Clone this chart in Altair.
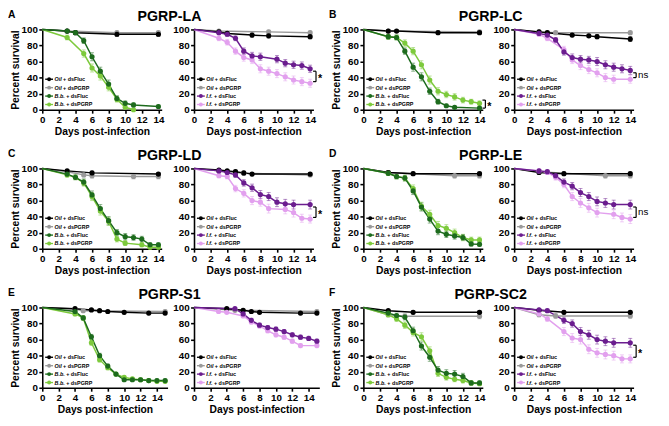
import altair as alt
import pandas as pd

# ---------------- data: (day, percent survival, error) per series ----------------
A_L = {
    "oil_fluc": [(0, 100, 0), (3, 98, 1.5), (4, 96, 2), (9, 94, 2.5), (14, 94, 2.5)],
    "oil_pgrp": [(0, 100, 0), (3, 98, 1.5), (9, 96, 2), (14, 96, 2)],
    "bb_fluc": [(0, 100, 0), (3, 98, 1.5), (4, 96, 2), (5, 86, 3.5), (6, 66, 5), (7, 48, 5), (8, 32, 5),
                (9, 14, 3.5), (10, 8, 3), (11, 6, 2.5), (14, 4, 2)],
    "bb_pgrp": [(0, 100, 0), (3, 90, 3), (5, 70, 4.5), (6, 52, 5), (7, 42, 5), (8, 28, 4.5), (9, 13, 3.5),
                (10, 3, 2), (11, 0, 0)],
}
A_R = {
    "oil_fluc": [(0, 100, 0), (3, 97, 2), (4, 95, 2), (7, 93, 2.5), (9, 92, 2.5), (14, 91, 2.5)],
    "oil_pgrp": [(0, 100, 0), (3, 98, 1.5), (9, 97, 2), (14, 96, 2)],
    "ifu_fluc": [(0, 100, 0), (3, 96, 2), (4, 94, 2.5), (5, 89, 3), (6, 73, 4), (7, 67, 4.5), (8, 66, 4.5),
                 (10, 63, 4.5), (11, 58, 4.5), (12, 56, 4.5), (13, 55, 4.5), (14, 51, 4.5)],
    "ifu_pgrp": [(0, 100, 0), (3, 89, 3), (4, 84, 3.5), (5, 73, 4), (6, 65, 4.5), (7, 62, 4.5), (8, 51, 5),
                 (9, 48, 5), (10, 45, 5), (11, 41, 5), (12, 37, 5), (13, 35, 5), (14, 33, 5)],
}
B_L = {
    "oil_fluc": [(0, 100, 0), (3, 98, 1.5), (4, 98, 1.5), (9, 96, 2), (14, 96, 2)],
    "oil_pgrp": [(0, 100, 0), (3, 98, 1.5), (14, 97, 2)],
    "bb_fluc": [(0, 100, 0), (3, 91, 3), (4, 90, 3), (5, 73, 4), (6, 53, 5), (7, 41, 5), (8, 23, 4),
                (9, 10, 3), (10, 5, 2), (11, 3, 1.5), (14, 2, 1.5)],
    "bb_pgrp": [(0, 100, 0), (3, 91, 3), (4, 90, 3), (5, 83, 4), (6, 73, 4.5), (7, 56, 5), (8, 37, 5),
                (9, 23, 4.5), (10, 19, 4), (11, 16, 4), (12, 12, 3.5), (13, 10, 3), (14, 8, 3)],
}
B_R = {
    "oil_fluc": [(0, 100, 0), (3, 97, 1.5), (4, 96, 2), (7, 93, 2), (9, 92, 2), (10, 91, 2.5), (14, 88, 3)],
    "oil_pgrp": [(0, 100, 0), (3, 97, 1.5), (5, 96, 2), (14, 96, 2)],
    "ifu_fluc": [(0, 100, 0), (3, 95, 2), (4, 93, 2.5), (5, 87, 3), (6, 72, 4), (7, 65, 4.5), (8, 63, 4.5),
                 (9, 62, 4.5), (10, 60, 5), (11, 56, 5), (12, 53, 5), (13, 51, 5), (14, 49, 5)],
    "ifu_pgrp": [(0, 100, 0), (3, 94, 2), (4, 89, 3), (6, 75, 4), (7, 62, 4.5), (8, 55, 5), (9, 50, 5),
                 (10, 46, 5), (11, 40, 5), (12, 38, 5), (14, 38, 5)],
}
C_L = {
    "oil_fluc": [(0, 100, 0), (3, 97, 1.5), (6, 94.5, 2), (14, 93, 2)],
    "oil_pgrp": [(0, 100, 0), (3, 96, 2), (5, 92, 2.5), (6, 91, 3), (11, 90, 3), (14, 90, 3)],
    "bb_fluc": [(0, 100, 0), (3, 93, 2.5), (4, 89, 3), (5, 83, 4), (6, 67, 5), (7, 50, 5), (8, 35, 5),
                (9, 20, 4), (10, 15, 4), (11, 14, 3.5), (12, 12, 3.5), (13, 5, 2.5), (14, 5, 2.5)],
    "bb_pgrp": [(0, 100, 0), (3, 92, 2.5), (4, 89, 3), (5, 82, 4), (6, 65, 5), (7, 47, 5), (8, 34, 5),
                (9, 12, 3.5), (10, 7, 3), (12, 5, 2.5), (13, 2, 1.5), (14, 2, 1.5)],
}
C_R = {
    "oil_fluc": [(0, 100, 0), (3, 98, 1.5), (4, 97, 1.5), (5, 96, 2), (6, 94.5, 2), (7, 93, 2), (14, 93, 2)],
    "oil_pgrp": [(0, 100, 0), (3, 97, 1.5), (6, 94, 2), (14, 92, 2)],
    "ifu_fluc": [(0, 100, 0), (3, 97, 1.5), (4, 95, 2), (5, 92, 3), (6, 82, 4), (7, 76, 4.5), (8, 67.5, 5),
                 (9, 65, 5), (10, 58, 5.5), (11, 56, 5.5), (12, 55, 5.5), (14, 55, 5.5)],
    "ifu_pgrp": [(0, 100, 0), (3, 91, 2.5), (4, 90, 3), (5, 75, 4), (6, 69, 4.5), (7, 60, 5), (8, 58, 5),
                 (9, 50, 5.5), (11, 49, 5.5), (12, 45, 5.5), (13, 38, 5), (14, 37, 5)],
}
D_L = {
    "oil_fluc": [(0, 100, 0), (3, 95, 2), (6, 93.5, 2), (14, 93.5, 2)],
    "oil_pgrp": [(0, 100, 0), (3, 95, 2), (11, 91, 3), (14, 91, 3)],
    "bb_fluc": [(0, 100, 0), (3, 94, 2.5), (4, 90, 3), (5, 88, 3.5), (6, 72, 4.5), (7, 52, 5), (8, 37, 5),
                (9, 22, 4.5), (10, 18, 4), (11, 16, 4), (12, 14, 3.5), (13, 6, 2.5), (14, 5.5, 2.5)],
    "bb_pgrp": [(0, 100, 0), (3, 94, 2.5), (4, 90, 3), (5, 88, 3.5), (6, 75, 4.5), (7, 53, 5), (8, 43, 5),
                (9, 29, 5), (10, 25.5, 4.5), (11, 20, 4.5), (12, 14, 4), (13, 11, 3.5), (14, 11, 3.5)],
}
D_R = {
    "oil_fluc": [(0, 100, 0), (3, 95, 2), (6, 93.5, 2), (14, 93.5, 2)],
    "oil_pgrp": [(0, 100, 0), (3, 96, 2), (11, 91, 3), (14, 91, 3)],
    "ifu_fluc": [(0, 100, 0), (3, 97, 1.5), (4, 96, 2), (5, 91, 3), (6, 83, 4), (7, 78, 4.5), (8, 70, 5),
                 (9, 65, 5), (10, 59, 5.5), (11, 57, 5.5), (12, 55, 5.5), (14, 55, 5.5)],
    "ifu_pgrp": [(0, 100, 0), (3, 97, 1.5), (4, 95, 2), (5, 89, 3.5), (6, 80, 4), (7, 65, 5), (8, 57, 5.5),
                 (9, 51, 5.5), (10, 45, 5.5), (12, 43, 5.5), (13, 39, 5.5), (14, 37, 5.5)],
}
E_L = {
    "oil_fluc": [(0, 100, 0), (4, 98.5, 1), (6, 97, 1.5), (7, 96, 1.5), (8, 95, 1.5), (10, 94, 2), (13, 93, 2),
                 (15, 93, 2)],
    "oil_pgrp": [(0, 100, 0), (4, 98, 1), (5, 96, 1.5), (15, 95, 2)],
    "bb_fluc": [(0, 100, 0), (4, 95, 1.5), (5, 87, 2.5), (6, 63.5, 3), (7, 40, 3), (8, 27, 2.5), (9, 17, 2),
                (10, 10, 2), (11, 10, 2), (12, 10, 2), (13, 9, 2), (14, 9, 2), (15, 9, 2)],
    "bb_pgrp": [(0, 100, 0), (4, 92, 2), (5, 87, 2.5), (6, 56, 3), (7, 35, 3), (8, 25, 2.5), (9, 17, 2),
                (10, 13, 2), (11, 11, 2), (12, 10, 2), (13, 9, 2), (14, 8, 2), (15, 8, 2)],
}
E_R = {
    "oil_fluc": [(0, 100, 0), (4, 98.5, 1), (6, 96.5, 1.5), (7, 95, 1.5), (8, 94, 1.5), (13, 93, 2), (15, 93, 2)],
    "oil_pgrp": [(0, 100, 0), (5, 96.5, 1.5), (15, 95, 2)],
    "ifu_fluc": [(0, 100, 0), (5, 98.5, 1), (6, 92, 2), (7, 84, 2.5), (8, 78, 2.5), (9, 75, 2.5), (10, 73, 2.5),
                 (11, 70, 2.5), (12, 66, 2.5), (13, 63, 2.5), (14, 61.5, 2.5), (15, 58, 2.5)],
    "ifu_pgrp": [(0, 100, 0), (3, 95, 1.5), (4, 94, 1.5), (6, 89.5, 2), (7, 82, 2.5), (8, 77, 2.5), (9, 71, 2.5),
                 (10, 66, 2.5), (11, 63, 2.5), (12, 58, 2.5), (13, 52.5, 2.5), (15, 52.5, 2.5)],
}
F_L = {
    "oil_fluc": [(0, 100, 0), (3, 96, 1.5), (6, 94, 2), (14, 94, 2)],
    "oil_pgrp": [(0, 100, 0), (3, 91, 2.5), (5, 89, 3), (14, 89, 3)],
    "bb_fluc": [(0, 100, 0), (3, 93, 2.5), (4, 90, 3), (5, 88, 3.5), (6, 71, 4.5), (7, 52, 5), (8, 38, 5),
                (9, 22, 4.5), (10, 18, 4.5), (11, 17, 4.5), (12, 14, 4), (13, 6, 2.5), (14, 6, 2.5)],
    "bb_pgrp": [(0, 100, 0), (3, 91, 2.5), (4, 86, 3.5), (5, 78, 4), (6, 69, 4.5), (7, 63.5, 5), (8, 46, 5),
                (9, 18, 4), (10, 13, 3.5), (11, 10.5, 3), (12, 9, 3), (13, 6, 2.5), (14, 5, 2)],
}
F_R = {
    "oil_fluc": [(0, 100, 0), (3, 96.5, 1.5), (6, 94, 2), (14, 94, 2)],
    "oil_pgrp": [(0, 100, 0), (3, 91, 2.5), (5, 89.5, 3), (14, 89.5, 3)],
    "ifu_fluc": [(0, 100, 0), (3, 97, 1.5), (4, 96, 2), (6, 84, 4), (7, 80, 4.5), (8, 70, 5), (9, 66, 5.5),
                 (10, 60, 5.5), (11, 58, 5.5), (12, 56, 5.5), (14, 56, 5.5)],
    "ifu_pgrp": [(0, 100, 0), (3, 92, 2.5), (4, 86, 3.5), (6, 70, 5), (7, 62, 5.5), (8, 60, 5.5), (9, 48, 5.5),
                 (10, 43.5, 5.5), (11, 41.5, 5.5), (12, 40, 5.5), (13, 36, 5), (14, 36, 5)],
}

PANEL_LETTERS = ["A", "B", "C", "D", "E", "F"]
PANEL_TITLES = ["PGRP-LA", "PGRP-LC", "PGRP-LD", "PGRP-LE", "PGRP-S1", "PGRP-SC2"]
PANEL_DATA = [(A_L, A_R), (B_L, B_R), (C_L, C_R), (D_L, D_R), (E_L, E_R), (F_L, F_R)]
PANEL_SIG = [(None, "*"), ("*", "ns"), (None, "*"), (None, "ns"), (None, None), (None, "*")]
PANEL_XMAX = [14.4, 14.4, 14.4, 14.4, 15.3, 14.4]

X_TICKS = [0, 2, 4, 6, 8, 10, 12, 14]
Y_TICKS = [0, 20, 40, 60, 80, 100]

KEYS = ["oil_fluc", "oil_pgrp", "bb_fluc", "bb_pgrp", "ifu_fluc", "ifu_pgrp"]
COLORS = ["#000000", "#9a9a9a", "#1d6b1d", "#7dca3c", "#6b1d8f", "#e2a0ee"]
SPECIES = {"oil": "Oil", "bb": "B.b.", "ifu": "I.f."}
TREAT = {"fluc": "+ dsFluc", "pgrp": "+ dsPGRP"}

# ---------------- layout ----------------
FONT = "Liberation Sans"
PLOT_H = 82
CELL_W = [155, 173, 154, 150]
LEG_FS = 5.5
SPECIES_W = {"oil": 8.8, "bb": 11.9, "ifu": 7.9}

color = alt.Color("series:N", scale=alt.Scale(domain=KEYS, range=COLORS), legend=None)


def make_cell(data, col, letter=None, title=None, sig=None, xmax=14.4):
    plot_w = 128 if xmax > 15 else 122
    xscale = alt.Scale(domain=[0, xmax], range=[0, plot_w], nice=False, zero=False)
    yscale = alt.Scale(domain=[0, 100], nice=False)
    xaxis = alt.Axis(values=X_TICKS, title="Days post-infection", titlePadding=2)
    if col in (0, 2):
        yaxis = alt.Axis(values=Y_TICKS, title="Percent survival", titlePadding=1)
    else:
        yaxis = alt.Axis(values=Y_TICKS, title=None)

    def X(f):
        return alt.X(f, type="quantitative", scale=xscale, axis=xaxis)

    def Y(f):
        return alt.Y(f, type="quantitative", scale=yscale, axis=yaxis)

    keys = list(data.keys())
    inf = [k for k in keys if not k.startswith("oil")]
    draw_order = ["oil_pgrp", "oil_fluc"] + [k for k in inf if k.endswith("pgrp")] + \
                 [k for k in inf if k.endswith("fluc")]
    rows = []
    for k in draw_order:
        for d, s, e in data[k]:
            rows.append({"series": k, "day": d, "surv": s, "err": e,
                         "lo": max(s - e, 0), "hi": min(s + e, 100)})
    df = pd.DataFrame(rows)
    base = alt.Chart(df)

    errs = base.transform_filter(alt.FieldGTPredicate(field="err", gt=0))
    err_rule = errs.mark_rule(strokeWidth=1, opacity=0.5).encode(x=X("day"), y=Y("lo"), y2="hi", color=color)
    cap_lo = errs.mark_tick(orient="horizontal", size=4, thickness=1, opacity=0.5).encode(
        x=X("day"), y=Y("lo"), color=color)
    cap_hi = errs.mark_tick(orient="horizontal", size=4, thickness=1, opacity=0.5).encode(
        x=X("day"), y=Y("hi"), color=color)
    line = base.mark_line(strokeWidth=1.5).encode(x=X("day"), y=Y("surv"), color=color,
                                                  order=alt.Order("day:Q"))
    pts = base.transform_filter(alt.FieldGTPredicate(field="day", gt=0)).mark_point(
        filled=True, shape="circle", size=28, opacity=1).encode(x=X("day"), y=Y("surv"), color=color)

    layers = [err_rule, cap_lo, cap_hi, line, pts]

    # legend (inside plot, lower-left)
    leg_keys = ["oil_fluc", "oil_pgrp"] + [k for k in inf if k.endswith("fluc")] + \
               [k for k in inf if k.endswith("pgrp")]
    leg = pd.DataFrame({
        "series": leg_keys,
        "ly": [38 - 10.5 * i for i in range(4)],
        "grp": [k.split("_")[0] for k in leg_keys],
        "species": [SPECIES[k.split("_")[0]] for k in leg_keys],
        "treat": [TREAT[k.split("_")[1]] for k in leg_keys],
    })
    lbase = alt.Chart(leg)
    layers.append(lbase.mark_rule(strokeWidth=1.4).encode(
        x=alt.value(3), x2=alt.value(11), y=Y("ly"), color=color))
    layers.append(lbase.mark_point(filled=True, shape="circle", size=16, opacity=1).encode(
        x=alt.value(7), y=Y("ly"), color=color))
    layers.append(lbase.mark_text(align="left", baseline="middle", font=FONT, fontSize=LEG_FS,
                                  fontStyle="italic", fontWeight="bold", color="black").encode(
        x=alt.value(12.5), y=Y("ly"), text="species:N"))
    for g in sorted(set(leg["grp"])):
        layers.append(lbase.transform_filter(alt.FieldEqualPredicate(field="grp", equal=g)).mark_text(
            align="left", baseline="middle", font=FONT, fontSize=LEG_FS, fontWeight="bold",
            color="black").encode(x=alt.value(12.5 + SPECIES_W[g]), y=Y("ly"), text="treat:N"))

    # significance bracket
    if sig:
        last = [data[k][-1][1] for k in inf]
        hi_v, lo_v = max(last), min(last)
        if hi_v - lo_v >= 10:
            yt, yb = hi_v - 3, lo_v + 2
        else:
            yt, yb = hi_v + 4, lo_v
        bdf = pd.DataFrame({"yt": [yt], "yb": [yb], "ym": [(yt + yb) / 2], "label": [sig]})
        x14 = plot_w * 14 / xmax
        bx = x14 + 6
        bb = alt.Chart(bdf)
        layers.append(bb.mark_rule(strokeWidth=1.2, color="black").encode(
            x=alt.value(bx), y=Y("yt"), y2="yb"))
        layers.append(bb.mark_rule(strokeWidth=1.2, color="black").encode(
            x=alt.value(bx - 3), x2=alt.value(bx), y=Y("yt")))
        layers.append(bb.mark_rule(strokeWidth=1.2, color="black").encode(
            x=alt.value(bx - 3), x2=alt.value(bx), y=Y("yb")))
        if sig == "*":
            txt = bb.mark_text(align="left", baseline="middle", font=FONT, fontSize=11,
                               fontWeight="bold", color="black", dy=3)
        else:
            txt = bb.mark_text(align="left", baseline="middle", font=FONT, fontSize=10,
                               color="black", dy=0)
        layers.append(txt.encode(x=alt.value(bx + 2), y=Y("ym"), text="label:N"))

    # panel letter and title
    if letter:
        layers.append(alt.Chart(pd.DataFrame({"t": [letter]})).mark_text(
            align="left", baseline="alphabetic", font=FONT, fontSize=10.5, fontWeight="bold",
            color="black").encode(x=alt.value(-35), y=alt.value(-12), text="t:N"))
    if title:
        layers.append(alt.Chart(pd.DataFrame({"t": [title]})).mark_text(
            align="center", baseline="alphabetic", font=FONT, fontSize=14.5, fontWeight="bold",
            color="black").encode(x=alt.value(130), y=alt.value(-9), text="t:N"))

    return alt.layer(*layers).properties(width=CELL_W[col], height=PLOT_H)


cells = []
for r in range(3):
    for p in (2 * r, 2 * r + 1):
        left, right = PANEL_DATA[p]
        sl, sr = PANEL_SIG[p]
        c0 = 0 if p % 2 == 0 else 2
        cells.append(make_cell(left, c0, PANEL_LETTERS[p], PANEL_TITLES[p], sl, PANEL_XMAX[p]))
        cells.append(make_cell(right, c0 + 1, None, None, sr, PANEL_XMAX[p]))

chart = alt.concat(
    *cells, columns=4, spacing={"row": 60, "column": 0}, bounds="flush", align="each",
    padding={"left": 0, "right": 0, "top": -3.5, "bottom": 0},
).configure_view(stroke=None).configure_axis(
    domainColor="black", domainWidth=1.6, tickColor="black", tickWidth=1.6, tickSize=3.5,
    labelFont=FONT, labelFontSize=10, labelFontWeight="bold", labelColor="black", labelPadding=1.5,
    labelFlush=False, labelOverlap=False,
    titleFont=FONT, titleFontSize=10.5, titleFontWeight="bold", titleColor="black", grid=False,
)

chart.save("out.html", embed_options={"renderer": "svg", "actions": False})
